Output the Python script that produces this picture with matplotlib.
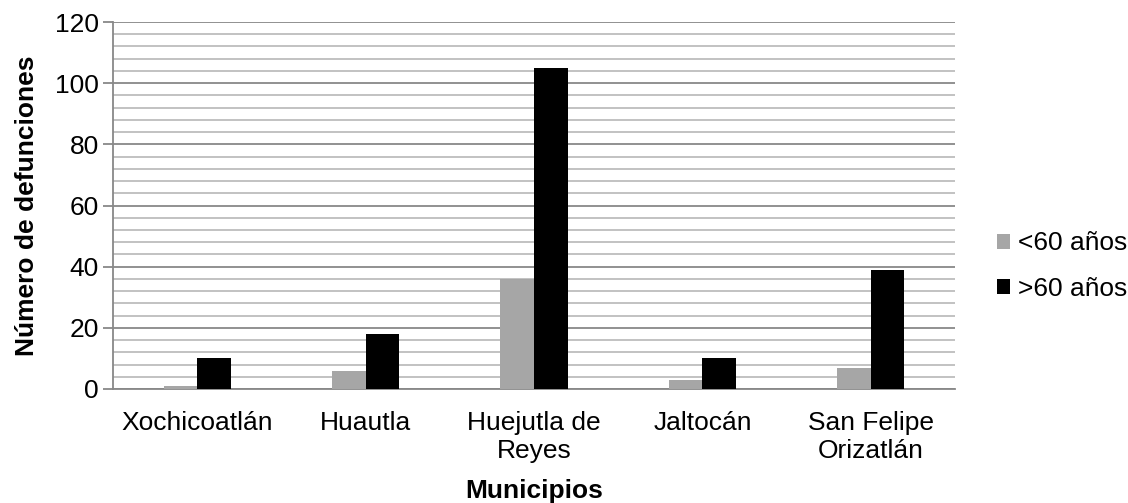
import numpy as np
import matplotlib
matplotlib.use("Agg")
import matplotlib.pyplot as plt
from matplotlib.ticker import MultipleLocator

plt.rcParams['font.family'] = ['Liberation Sans', 'DejaVu Sans']

# Defunciones por municipio y grupo de edad
municipios = ["Xochicoatlán", "Huautla", "Huejutla de\nReyes", "Jaltocán", "San Felipe\nOrizatlán"]
menores_60 = [1, 6, 36, 3, 7]
mayores_60 = [10, 18, 105, 10, 39]
series = ["<60 años", ">60 años"]
colores = ["#A6A6A6", "#000000"]

W, H = 1128, 503
fig = plt.figure(figsize=(W / 100, H / 100), dpi=100)
ax = fig.add_axes([113 / W, 1 - 389 / H, (955 - 113) / W, (389 - 22) / H])

x = np.arange(len(municipios))
ancho = 0.2
ax.bar(x - ancho / 2, menores_60, ancho, color=colores[0], label=series[0], zorder=3)
ax.bar(x + ancho / 2, mayores_60, ancho, color=colores[1], label=series[1], zorder=3)

ax.set_xlim(-0.5, len(municipios) - 0.5)
ax.set_ylim(0, 120)
ax.yaxis.set_major_locator(MultipleLocator(20))
ax.yaxis.set_minor_locator(MultipleLocator(4))
ax.grid(axis="y", which="minor", color="#BDBDBD", linewidth=1.3, zorder=0)
ax.grid(axis="y", which="major", color="#888888", linewidth=1.3, zorder=1)

for lado in ["top", "right"]:
    ax.spines[lado].set_visible(False)
for lado in ["left", "bottom"]:
    ax.spines[lado].set_color("#888888")
    ax.spines[lado].set_linewidth(1.3)

ax.set_xticks(x)
ax.set_xticklabels(municipios)
ax.tick_params(axis="x", length=0, labelsize=19, pad=16)
ax.tick_params(axis="y", which="major", length=7, width=1.3, color="#888888",
               labelsize=19, pad=3)
ax.tick_params(axis="y", which="minor", length=0)

# títulos de los ejes
fig.text(534 / W, 1 - 491 / H, "Municipios", fontsize=19, fontweight="bold",
         ha="center", va="center")
fig.text(27 / W, 1 - 206 / H, "Número de defunciones", fontsize=19,
         fontweight="bold", rotation=90, ha="center", va="center")

ax.legend(loc="center left", bbox_to_anchor=(1.05, 0.335), frameon=False,
          fontsize=19, handlelength=0.5, handleheight=0.5, handletextpad=0.3,
          labelspacing=0.8, borderpad=0, borderaxespad=0)

fig.savefig("out.png", dpi=100)
